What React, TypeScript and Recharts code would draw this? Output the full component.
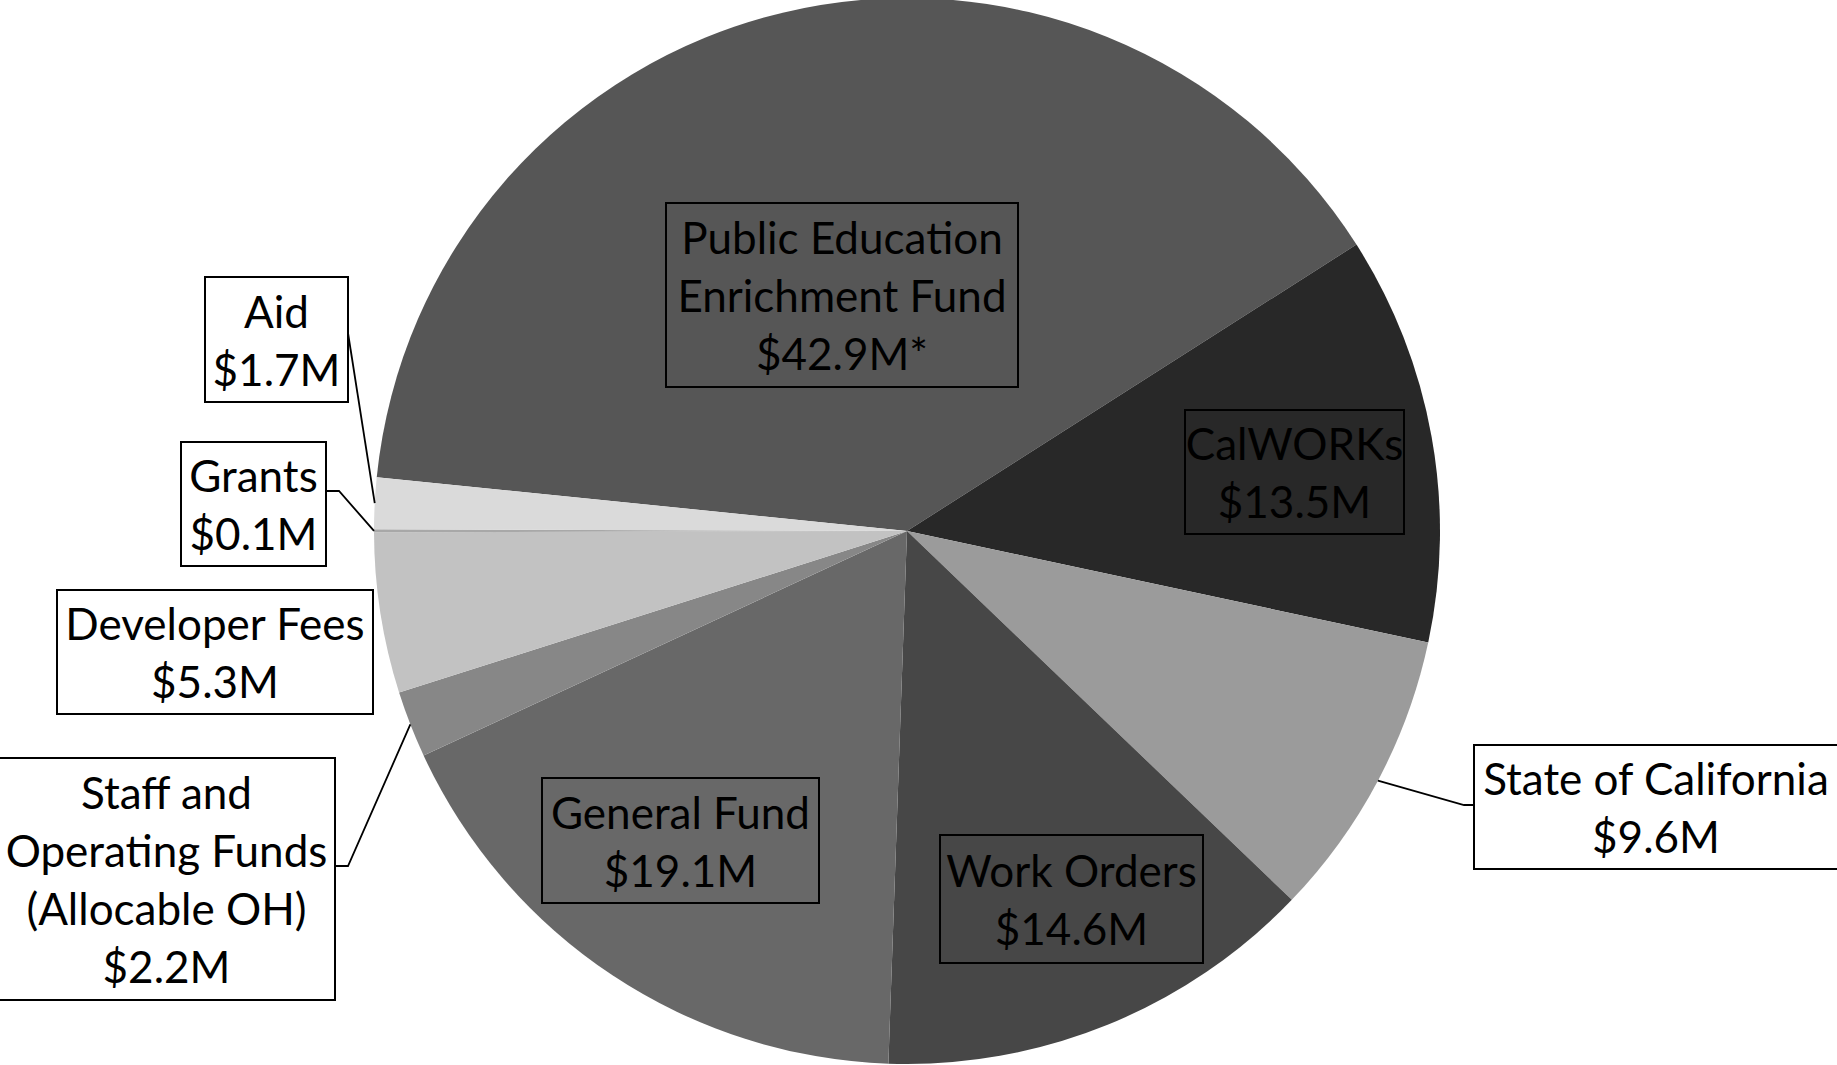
import { Cell, Pie, PieChart } from "recharts";

// revenue sources, clockwise from the left edge of the big slice
const categories = [
  "Public Education Enrichment Fund",
  "CalWORKs",
  "State of California",
  "Work Orders",
  "General Fund",
  "Staff and Operating Funds (Allocable OH)",
  "Developer Fees",
  "Grants",
  "Aid",
];
const amounts = [42.9, 13.5, 9.6, 14.6, 19.1, 2.2, 5.3, 0.1, 1.7];
const footnotes = ["*", "", "", "", "", "", "", "", ""];
const sliceColors = [
  "#565656",
  "#282828",
  "#9b9b9b",
  "#474747",
  "#686868",
  "#878787",
  "#c2c2c2",
  "#a8a8a8",
  "#dadada",
];

const data = categories.map((name, i) => ({ name, value: amounts[i], note: footnotes[i] }));

const FONT = "Lato, 'Open Sans', sans-serif";
const FONT_SIZE = 44;
const LINE_H = 58;

type Layout = {
  lines: string[];
  box: [number, number, number, number]; // dx, dy from pie centre, width, height
  fill: string;
  leader?: [number, number][]; // bends after the edge point, offsets from pie centre
};

const labelLayout: Record<string, Layout> = {
  "Public Education Enrichment Fund": {
    lines: ["Public Education", "Enrichment Fund"],
    box: [-241, -328, 352, 184],
    fill: "none",
  },
  CalWORKs: { lines: ["CalWORKs"], box: [278, -121, 219, 124], fill: "none" },
  "State of California": {
    lines: ["State of California"],
    box: [567, 214, 364, 124],
    fill: "#ffffff",
    leader: [
      [557, 274],
      [567, 274],
    ],
  },
  "Work Orders": { lines: ["Work Orders"], box: [33, 304, 263, 128], fill: "none" },
  "General Fund": { lines: ["General Fund"], box: [-365, 247, 277, 125], fill: "none" },
  "Staff and Operating Funds (Allocable OH)": {
    lines: ["Staff and", "Operating Funds", "(Allocable OH)"],
    box: [-909, 227, 337, 242],
    fill: "#ffffff",
    leader: [
      [-559, 335],
      [-571, 335],
    ],
  },
  "Developer Fees": { lines: ["Developer Fees"], box: [-850, 59, 316, 124], fill: "#ffffff" },
  Grants: {
    lines: ["Grants"],
    box: [-726, -89, 145, 124],
    fill: "#ffffff",
    leader: [
      [-568, -40],
      [-581, -40],
    ],
  },
  Aid: {
    lines: ["Aid"],
    box: [-702, -254, 143, 125],
    fill: "#ffffff",
    leader: [[-559, -198]],
  },
};

const RADIAN = Math.PI / 180;

function BoxLabel(props: any) {
  const { cx, cy, midAngle, outerRadius, name, value, payload } = props;
  const layout = labelLayout[name];
  if (!layout) return null;
  const [dx, dy, w, h] = layout.box;
  const x = cx + dx;
  const y = cy + dy;
  const lines = [...layout.lines, `$${value.toFixed(1)}M${payload.note ?? ""}`];
  const firstY = y + h / 2 - ((lines.length - 1) * LINE_H) / 2;

  let leader = null;
  if (layout.leader) {
    const sx = cx + outerRadius * Math.cos(-midAngle * RADIAN);
    const sy = cy + outerRadius * Math.sin(-midAngle * RADIAN);
    const pts = [[sx, sy], ...layout.leader.map(([px, py]) => [cx + px, cy + py])];
    leader = (
      <polyline
        points={pts.map((p) => p.join(",")).join(" ")}
        fill="none"
        stroke="#000"
        strokeWidth={1.8}
      />
    );
  }

  return (
    <g>
      {leader}
      <rect x={x} y={y} width={w} height={h} fill={layout.fill} stroke="#000" strokeWidth={2} />
      {lines.map((line, i) => (
        <text
          key={i}
          x={x + w / 2}
          y={firstY + i * LINE_H}
          textAnchor="middle"
          dominantBaseline="central"
          fontFamily={FONT}
          fontSize={FONT_SIZE}
          fill="#000"
        >
          {line}
        </text>
      ))}
    </g>
  );
}

export default function App() {
  return (
    <div style={{ width: 1837, height: 1065, background: "#fff" }}>
      <style>{"body{margin:0;background:#fff}"}</style>
      <PieChart width={1837} height={1065} margin={{ top: 0, right: 0, bottom: 0, left: 0 }}>
        <Pie
          data={data}
          dataKey="value"
          nameKey="name"
          cx={907}
          cy={531}
          outerRadius={533}
          startAngle={174.2}
          endAngle={-185.8}
          stroke="none"
          label={BoxLabel}
          labelLine={false}
          isAnimationActive={false}
        >
          {data.map((d, i) => (
            <Cell key={d.name} fill={sliceColors[i]} />
          ))}
        </Pie>
      </PieChart>
    </div>
  );
}
